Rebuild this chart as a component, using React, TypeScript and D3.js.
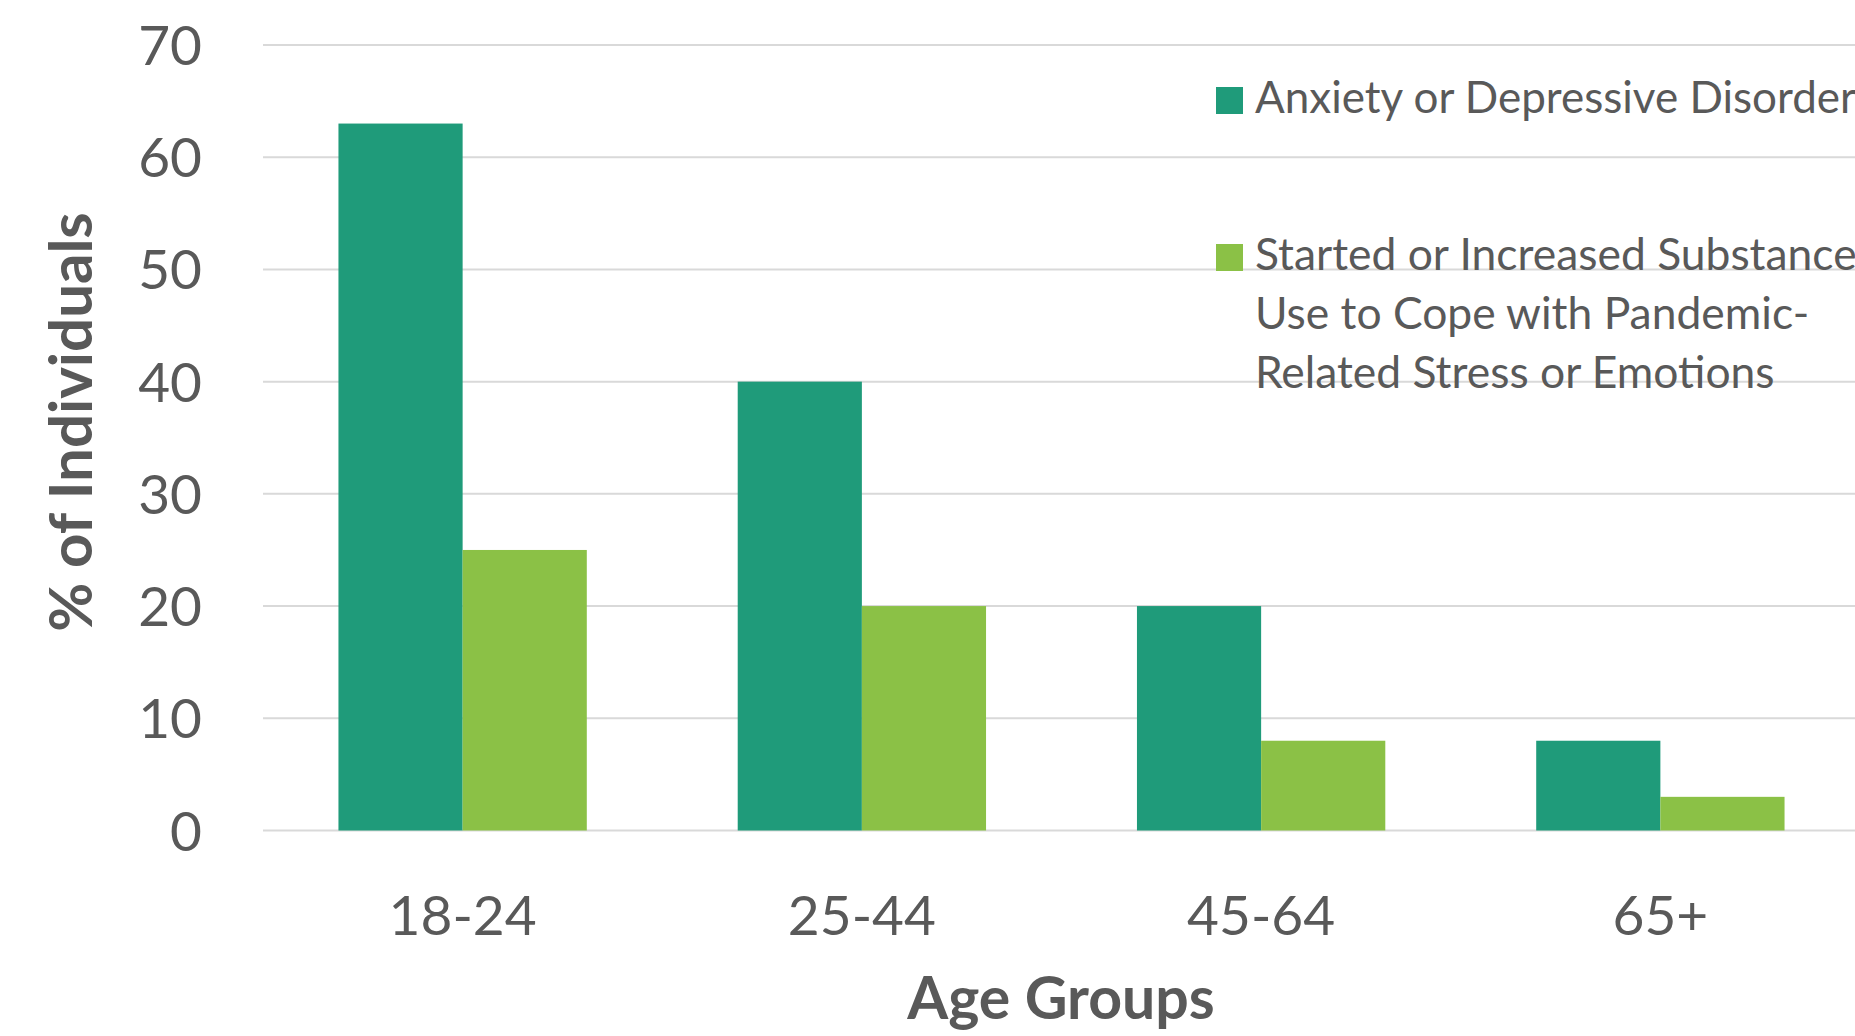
import React from "react";
import * as d3 from "d3";

const ageGroups = ["18-24", "25-44", "45-64", "65+"];
const anxietyValues = [63, 40, 20, 8];
const substanceValues = [25, 20, 8, 3];
const yTicks = [0, 10, 20, 30, 40, 50, 60, 70];
const seriesNames = ["Anxiety or Depressive Disorder", "Started or Increased Substance"];
const substanceLegendLines = [
  "Started or Increased Substance",
  "Use to Cope with Pandemic-",
  "Related Stress or Emotions",
];
const seriesColors = ["#1F9B7A", "#8BC146"];

const W = 1855;
const H = 1036;
const FONT = "Lato, 'Open Sans', sans-serif";
const TEXT = "#595959";

export default function App() {
  const left = 263;
  const right = 1860;
  const y = d3.scaleLinear().domain([0, 70]).range([830.5, 45]);
  const x0 = d3
    .scaleBand<string>()
    .domain(ageGroups)
    .range([left, right])
    .paddingInner(0.378)
    .paddingOuter(0.189);
  const x1 = d3
    .scaleBand<number>()
    .domain([0, 1])
    .range([0, x0.bandwidth()]);
  const series = [anxietyValues, substanceValues];

  return (
    <svg
      width={W}
      height={H}
      style={{ position: "fixed", left: 0, top: 0, background: "#fff" }}
      fontFamily={FONT}
    >
      <rect width={W} height={H} fill="#fff" />
      {/* gridlines */}
      {yTicks.map((t) => (
        <line
          key={t}
          x1={left}
          x2={W}
          y1={y(t)}
          y2={y(t)}
          stroke="#D9D9D9"
          strokeWidth={2}
        />
      ))}
      {/* y tick labels */}
      {yTicks.map((t) => (
        <text
          key={"l" + t}
          x={202}
          y={y(t)}
          dy={20}
          textAnchor="end"
          fontSize={55}
          fill={TEXT}
        >
          {t}
        </text>
      ))}
      {/* bars */}
      {ageGroups.map((g, i) => (
        <g key={g} transform={`translate(${x0(g)},0)`}>
          {series.map((vals, s) => (
            <rect
              key={s}
              x={x1(s)}
              y={y(vals[i])}
              width={x1.bandwidth()}
              height={y(0) - y(vals[i])}
              fill={seriesColors[s]}
            />
          ))}
        </g>
      ))}
      {/* x tick labels */}
      {ageGroups.map((g) => (
        <text
          key={"x" + g}
          x={(x0(g) as number) + x0.bandwidth() / 2}
          y={935}
          textAnchor="middle"
          fontSize={55}
          fill={TEXT}
        >
          {g}
        </text>
      ))}
      {/* axis titles */}
      <text
        x={1061}
        y={1019}
        textAnchor="middle"
        fontSize={59}
        fontWeight="bold"
        fill={TEXT}
      >
        Age Groups
      </text>
      <text
        transform="translate(92,422) rotate(-90)"
        textAnchor="middle"
        fontSize={60}
        fontWeight="bold"
        fill={TEXT}
      >
        % of Individuals
      </text>
      {/* legend */}
      <rect x={1216} y={87} width={27} height={27} fill={seriesColors[0]} />
      <text x={1255} y={113} fontSize={44} fill={TEXT}>
        {seriesNames[0]}
      </text>
      <rect x={1216} y={244} width={27} height={27} fill={seriesColors[1]} />
      {substanceLegendLines.map((line, i) => (
        <text key={line} x={1255} y={270 + i * 59} fontSize={44.4} fill={TEXT}>
          {line}
        </text>
      ))}
    </svg>
  );
}
